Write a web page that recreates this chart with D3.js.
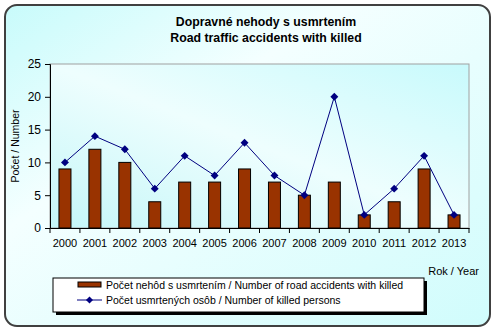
<!doctype html>
<html lang="sk">
<head>
<meta charset="UTF-8">
<title>Dopravné nehody s usmrtením</title>
<script src="https://d3js.org/d3.v7.min.js"></script>
<style>
  body { margin: 0; background: #fff; }
  text { font-family: "Liberation Sans", Arial, sans-serif; fill: #000; }
</style>
</head>
<body>
<script>
    var years = ["2000","2001","2002","2003","2004","2005","2006","2007","2008","2009","2010","2011","2012","2013"],
        accidents = [9, 12, 10, 4, 7, 7, 9, 7, 5, 7, 2, 4, 9, 2],
        killed = [10, 14, 12, 6, 11, 8, 13, 8, 5, 20, 2, 6, 11, 2],
        yTicks = [0, 5, 10, 15, 20, 25];

    var width = 497, height = 333,
        pLeft = 50, pRight = 469, pTop = 64, pBottom = 228;

    var svg = d3.select("body").append("svg")
        .attr("width", width)
        .attr("height", height);

    var defs = svg.append("defs");
    var grad = defs.append("linearGradient").attr("id", "bg")
        .attr("x1", "0%").attr("y1", "0%").attr("x2", "100%").attr("y2", "100%");
    grad.append("stop").attr("offset", "0%").attr("stop-color", "#c8fbfb");
    grad.append("stop").attr("offset", "35%").attr("stop-color", "#f4ffff");
    grad.append("stop").attr("offset", "100%").attr("stop-color", "#d0fcfc");

    var grad2 = defs.append("linearGradient").attr("id", "plotbg")
        .attr("x1", "0%").attr("y1", "100%").attr("x2", "100%").attr("y2", "0%");
    grad2.append("stop").attr("offset", "0%").attr("stop-color", "#c4f6f8");
    grad2.append("stop").attr("offset", "50%").attr("stop-color", "#eefefe");
    grad2.append("stop").attr("offset", "100%").attr("stop-color", "#c8fafc");

    // outer frame
    svg.append("rect")
        .attr("x", 5).attr("y", 5).attr("width", 485).attr("height", 321)
        .attr("rx", 12).attr("ry", 12)
        .attr("fill", "url(#bg)")
        .attr("stroke", "#404040").attr("stroke-width", 2);

    // plot area
    svg.append("rect")
        .attr("x", pLeft).attr("y", pTop).attr("width", pRight - pLeft).attr("height", pBottom - pTop)
        .attr("fill", "url(#plotbg)")
        .attr("stroke", "#a0a0a0").attr("stroke-width", 1);

    var x = d3.scaleBand().domain(years).range([pLeft, pRight]);
    var y = d3.scaleLinear().domain([0, 25]).range([pBottom, pTop]);

    // titles
    svg.append("text").attr("x", 266).attr("y", 26).attr("text-anchor", "middle")
        .attr("font-size", 12.3).attr("font-weight", "bold").text("Dopravné nehody s usmrtením");
    svg.append("text").attr("x", 266).attr("y", 42).attr("text-anchor", "middle")
        .attr("font-size", 12.3).attr("font-weight", "bold").text("Road traffic accidents with killed");

    // bars
    svg.selectAll("rect.bar")
        .data(accidents)
        .enter()
        .append("rect")
        .attr("class", "bar")
        .attr("x", function(d, i){ return x(years[i]) + x.bandwidth() / 2 - 6; })
        .attr("y", function(d){ return y(d); })
        .attr("width", 12)
        .attr("height", function(d){ return y(0) - y(d); })
        .attr("fill", "#993300")
        .attr("stroke", "#000")
        .attr("stroke-width", 1);

    // line
    var line = d3.line()
        .x(function(d, i){ return x(years[i]) + x.bandwidth() / 2; })
        .y(function(d){ return y(d); });

    svg.append("path")
        .datum(killed)
        .attr("d", line)
        .attr("fill", "none")
        .attr("stroke", "#000080")
        .attr("stroke-width", 1);

    svg.selectAll("path.mark")
        .data(killed)
        .enter()
        .append("path")
        .attr("class", "mark")
        .attr("d", d3.symbol().type(d3.symbolDiamond2).size(40))
        .attr("transform", function(d, i){
            return "translate(" + (x(years[i]) + x.bandwidth() / 2) + "," + y(d) + ")";
        })
        .attr("fill", "#000080");

    // y axis
    var yAxis = svg.append("g")
        .attr("transform", "translate(" + pLeft + ",0)")
        .call(d3.axisLeft(y).tickValues(yTicks).tickSize(5).tickPadding(4));
    yAxis.selectAll("text").attr("font-size", 12).style("font-family", "Liberation Sans, Arial, sans-serif");
    yAxis.selectAll("line, path").attr("stroke", "#000");

    // x axis
    var xAxis = svg.append("g")
        .attr("transform", "translate(0," + pBottom + ")")
        .call(d3.axisBottom(x).tickSize(0).tickPadding(11));
    xAxis.select(".domain").attr("stroke", "#000");
    xAxis.selectAll("text").attr("font-size", 11).style("font-family", "Liberation Sans, Arial, sans-serif");
    xAxis.selectAll(".sep")
        .data(years.concat(["end"]))
        .enter()
        .append("line")
        .attr("class", "sep")
        .attr("x1", function(d, i){ return pLeft + i * x.step(); })
        .attr("x2", function(d, i){ return pLeft + i * x.step(); })
        .attr("y1", 0).attr("y2", 5)
        .attr("stroke", "#000");

    // axis titles
    svg.append("text")
        .attr("transform", "translate(19,146) rotate(-90)")
        .attr("text-anchor", "middle")
        .attr("font-size", 10.5)
        .text("Počet / Number");
    svg.append("text")
        .attr("x", 479).attr("y", 275)
        .attr("text-anchor", "end")
        .attr("font-size", 11)
        .text("Rok / Year");

    // legend
    var lg = svg.append("g");
    lg.append("rect").attr("x", 56).attr("y", 281).attr("width", 371).attr("height", 34).attr("fill", "#000");
    lg.append("rect").attr("x", 53).attr("y", 278).attr("width", 371).attr("height", 34)
        .attr("fill", "#fff").attr("stroke", "#000").attr("stroke-width", 1);
    lg.append("rect").attr("x", 78).attr("y", 282).attr("width", 23).attr("height", 5)
        .attr("fill", "#993300").attr("stroke", "#000");
    lg.append("text").attr("x", 106).attr("y", 289).attr("font-size", 10.5)
        .text("Počet nehôd s usmrtením / Number of road accidents with killed");
    lg.append("line").attr("x1", 77).attr("x2", 102).attr("y1", 300).attr("y2", 300)
        .attr("stroke", "#000080");
    lg.append("path").attr("d", d3.symbol().type(d3.symbolDiamond2).size(32))
        .attr("transform", "translate(89.5,300)").attr("fill", "#000080");
    lg.append("text").attr("x", 106).attr("y", 304).attr("font-size", 10.5)
        .text("Počet usmrtených osôb / Number of killed persons");
</script>
</body>
</html>
